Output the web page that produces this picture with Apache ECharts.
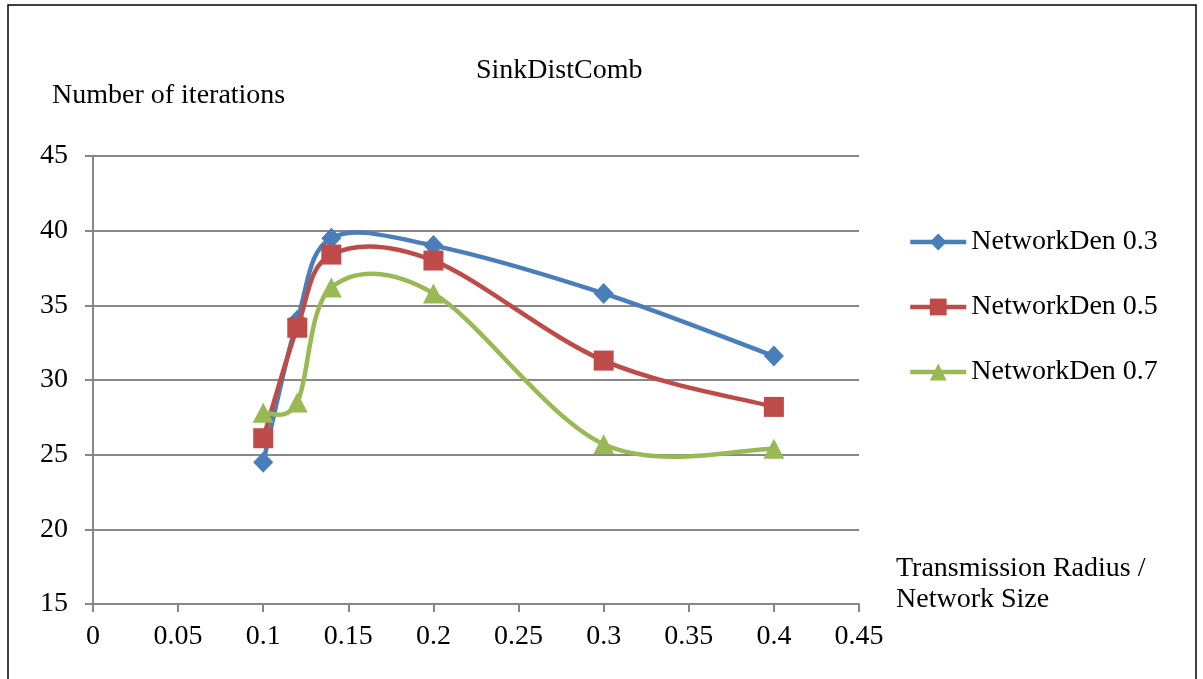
<!DOCTYPE html>
<html>
<head>
<meta charset="utf-8">
<script src="https://cdn.jsdelivr.net/npm/echarts@6/dist/echarts.min.js"></script>
<style>
  html, body { margin: 0; padding: 0; background: #fff; }
  #chart { width: 1203px; height: 679px; }
</style>
</head>
<body>
<div id="chart"></div>
<script>
// Transmission radius / network size
const xValues = [0.1, 0.12, 0.14, 0.2, 0.3, 0.4];
// Number of iterations per network density
const den03 = [24.5, 34.0, 39.5, 39.0, 35.8, 31.6];
const den05 = [26.1, 33.5, 38.4, 38.0, 31.3, 28.2];
const den07 = [27.8, 28.5, 36.2, 35.8, 25.7, 25.4];
const seriesNames = ['NetworkDen 0.3', 'NetworkDen 0.5', 'NetworkDen 0.7'];

const FONT = '"Liberation Serif", "Times New Roman", serif';
const GRID_GRAY = '#878787';
const COLORS = ['#4A7EBB', '#BE4B48', '#98B954'];
const LINE_W = 4.5;

function pairs(ys) { return xValues.map((x, i) => [x, ys[i]]); }

// Smooth curve through the data points (cardinal spline, 1/6 tangents),
// built in pixel space from the axis scales.
function curveSeries(ys, color, z) {
  return {
    type: 'custom', name: 'curve-' + z, z, silent: true, clip: false,
    data: pairs(ys),
    renderItem(params, api) {
      if (params.dataIndex !== 0) return null;
      const p = ys.map((y, i) => api.coord([xValues[i], y]));
      const n = p.length;
      let d = 'M' + p[0][0] + ' ' + p[0][1];
      for (let i = 0; i < n - 1; i++) {
        const a = p[Math.max(i - 1, 0)], b = p[i], c = p[i + 1], e = p[Math.min(i + 2, n - 1)];
        const c1x = b[0] + (c[0] - a[0]) / 6, c1y = b[1] + (c[1] - a[1]) / 6;
        const c2x = c[0] - (e[0] - b[0]) / 6, c2y = c[1] - (e[1] - b[1]) / 6;
        d += ' C' + c1x + ' ' + c1y + ' ' + c2x + ' ' + c2y + ' ' + c[0] + ' ' + c[1];
      }
      return {
        type: 'path',
        shape: { pathData: d },
        style: { fill: 'none', stroke: color, lineWidth: LINE_W, lineJoin: 'round', lineCap: 'round' }
      };
    }
  };
}

// Markers (and legend entries) for each density
function markerSeries(name, ys, color, symbol, size, z) {
  return {
    name, type: 'line', data: pairs(ys), z,
    symbol, symbolSize: size, showAllSymbol: true,
    lineStyle: { color, width: LINE_W, opacity: 0 },
    itemStyle: { color },
    emphasis: { disabled: true }
  };
}

const chart = echarts.init(document.getElementById('chart'), null, { renderer: 'canvas' });
chart.setOption({
  animation: false,
  backgroundColor: '#fff',
  title: {
    text: 'SinkDistComb', left: 471, top: 52,
    textStyle: { fontFamily: FONT, fontSize: 28, fontWeight: 'normal', color: '#000' }
  },
  legend: {
    orient: 'vertical', left: 903, top: 223,
    itemWidth: 56, itemHeight: 21, itemGap: 37,
    lineStyle: { width: LINE_W, opacity: 1 },
    textStyle: { fontFamily: FONT, fontSize: 28, color: '#000', lineHeight: 28 },
    data: seriesNames
  },
  grid: { left: 93, right: 344, top: 156, bottom: 75 },
  xAxis: {
    type: 'value', min: 0, max: 0.45, interval: 0.05,
    axisLine: { lineStyle: { color: GRID_GRAY, width: 2 } },
    axisTick: { show: true, length: 8, lineStyle: { color: GRID_GRAY, width: 2 } },
    splitLine: { show: false },
    axisLabel: {
      margin: 19, fontFamily: FONT, fontSize: 28, color: '#000',
      formatter: v => String(+v.toFixed(2))
    }
  },
  yAxis: {
    type: 'value', min: 15, max: 45, interval: 5,
    axisLine: { show: true, lineStyle: { color: GRID_GRAY, width: 2 } },
    axisTick: { show: true, length: 8, lineStyle: { color: GRID_GRAY, width: 2 } },
    splitLine: { show: true, lineStyle: { color: GRID_GRAY, width: 2 } },
    axisLabel: { margin: 25, fontFamily: FONT, fontSize: 28, color: '#000' }
  },
  graphic: [
    {
      type: 'rect', silent: true,
      shape: { x: 8, y: 5, width: 1188, height: 700 },
      style: { fill: 'none', stroke: '#000', lineWidth: 1.5 }
    },
    {
      type: 'text', silent: true, x: 52, y: 82,
      style: { text: 'Number of iterations', font: '28px ' + FONT, fill: '#000' }
    },
    {
      type: 'text', silent: true, x: 896, y: 553,
      style: {
        text: 'Transmission Radius /\nNetwork Size',
        font: '28px ' + FONT, lineHeight: 31, fill: '#000'
      }
    }
  ],
  series: [
    curveSeries(den03, COLORS[0], 3),
    markerSeries(seriesNames[0], den03, COLORS[0], 'diamond', [20, 21], 4),
    curveSeries(den05, COLORS[1], 5),
    markerSeries(seriesNames[1], den05, COLORS[1], 'rect', [20, 20], 6),
    curveSeries(den07, COLORS[2], 7),
    markerSeries(seriesNames[2], den07, COLORS[2], 'triangle', [21, 20], 8)
  ]
});
</script>
</body>
</html>
